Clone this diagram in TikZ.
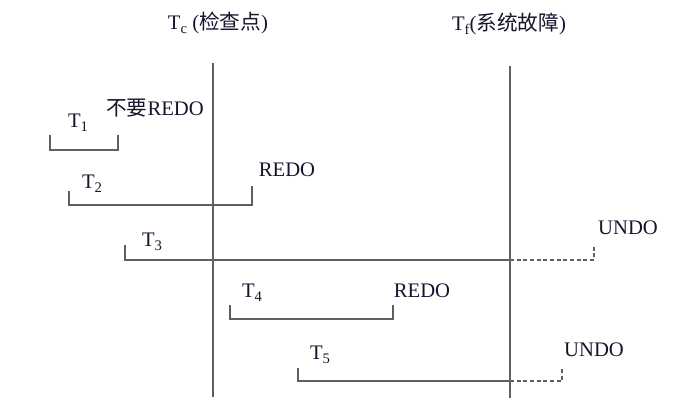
\documentclass[tikz,border=0pt]{standalone}
\usepackage{fontspec}
\setmainfont{Liberation Serif}
\newfontfamily\cjk{Noto Sans CJK SC}
\usetikzlibrary{calc}
\definecolor{ink}{RGB}{20,20,45}
\definecolor{rule}{RGB}{95,95,95}
\newcommand\tsub[1]{\raisebox{-0.45ex}{\fontsize{11}{12}\selectfont #1}}

\begin{document}
\begin{tikzpicture}[
    x=0.75pt, y=-0.75pt,
    lbl/.style={inner sep=0pt, font=\fontsize{15.5}{17}\selectfont, text=ink},
    tline/.style={draw=rule, line width=1pt},
    tx/.style={draw=rule, line width=0.9pt},
    lost/.style={draw=rule, line width=0.9pt, densely dashed}
]
\useasboundingbox (0,0) rectangle (699,407);

% time points
\node[lbl] (tc) at (218,23) {T\tsub{c} ({\cjk 检查点})};
\node[lbl] (tf) at (509,24) {T\tsub{f}({\cjk 系统故障})};
\coordinate (tcTop) at (213,63);
\coordinate (tcBot) at (213,397);
\coordinate (tfTop) at (510,66);
\coordinate (tfBot) at (510,398);
\draw[tline] (tcTop) -- (tcBot);
\draw[tline] (tfTop) -- (tfBot);

% T1
\node[lbl] (t1) at (78,123) {T\tsub{1}};
\node[lbl] (r1) at (155,108) {{\cjk 不要}REDO};
\coordinate (t1a) at (50,135);
\coordinate (t1b) at (118,135);
\draw[tx] (t1a) |- ($(t1b)+(0,15)$) -- (t1b);

% T2
\node[lbl] (t2) at (92,184) {T\tsub{2}};
\node[lbl] (r2) at (287,170) {REDO};
\coordinate (t2a) at (69,191);
\coordinate (t2b) at (252,186);
\draw[tx] (t2a) |- ($(t2b)+(0,19)$) -- (t2b);

% T3
\node[lbl] (t3) at (152,242) {T\tsub{3}};
\node[lbl] (u3) at (628,228) {UNDO};
\coordinate (t3a) at (125,245);
\coordinate (t3f) at (510,260);
\coordinate (t3b) at (594,245);
\draw[tx] (t3a) |- (t3f);
\draw[lost] (t3f) -| (t3b);

% T4
\node[lbl] (t4) at (252,293) {T\tsub{4}};
\node[lbl] (r4) at (422,291) {REDO};
\coordinate (t4a) at (230,305);
\coordinate (t4b) at (393,305);
\draw[tx] (t4a) |- ($(t4b)+(0,14)$) -- (t4b);

% T5
\node[lbl] (t5) at (320,355) {T\tsub{5}};
\node[lbl] (u5) at (594,350) {UNDO};
\coordinate (t5a) at (298,368);
\coordinate (t5f) at (510,381);
\coordinate (t5b) at (562,368);
\draw[tx] (t5a) |- (t5f);
\draw[lost] (t5f) -| (t5b);
\end{tikzpicture}
\end{document}
